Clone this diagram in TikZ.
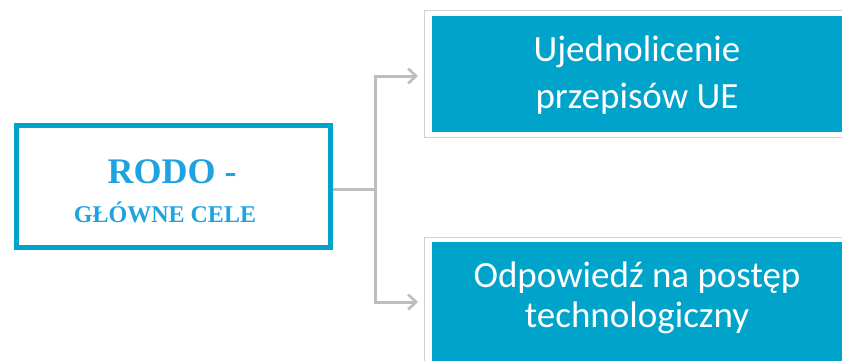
\documentclass[tikz,border=0pt]{standalone}
\usepackage{fontspec}
\setmainfont{Carlito}
\newfontfamily\titlefont{Liberation Serif}
\usetikzlibrary{arrows.meta,positioning}
\definecolor{rodoblue}{HTML}{00A3CA}
\definecolor{titleblue}{HTML}{1FA3E0}
\definecolor{linkgray}{HTML}{BDBDBD}
\tikzset{
  goalbox/.style={fill=rodoblue, inner sep=0pt, anchor=north west},
  goaltext/.style={text=white, align=center, inner sep=0pt},
  goalframe/.style={draw=gray!35, fill=white, line width=1pt},
  mainbox/.style={draw=rodoblue, line width=4.5pt, fill=white,
    minimum width=314pt, minimum height=122pt, inner sep=0pt, align=center},
  link/.style={draw=linkgray, line width=3pt,
    -{Straight Barb[length=8pt,width=15pt,line width=2.6pt]}}
}
\begin{document}
\begin{tikzpicture}[x=1pt,y=-1pt]
\useasboundingbox (0,0) rectangle (842,360);
\clip (0,0) rectangle (842,360);
% white frames behind the two goal boxes
\draw[goalframe] (424,10) rectangle (860,137);
\draw[goalframe] (424,237) rectangle (860,380);
% goal boxes
\node[goalbox, minimum width=420pt, minimum height=116pt] (uni) at (432,16) {};
\node[goaltext, font=\fontsize{37}{47}\selectfont] (unitext) at (637,75) {Ujednolicenie\\przepisów UE};
\node[goalbox, minimum width=420pt, minimum height=130pt] (tech) at (432,242) {};
\node[goaltext, font=\fontsize{37}{40}\selectfont] (techtext) at (637,298) {Odpowiedź na postęp\\technologiczny};
% main box
\node[mainbox] (rodo) at (173.5,186.5) {};
\node[text=titleblue, font=\titlefont\bfseries\fontsize{36}{36}\selectfont] (title) at (172,172) {RODO -};
\node[text=titleblue, font=\titlefont\bfseries\fontsize{24}{24}\selectfont] (sub) at (165,212) {GŁÓWNE CELE};
% connectors
\coordinate (split) at (375,189);
\draw[draw=linkgray, line width=3pt] (rodo.east |- split) -- (split);
\draw[link] (split) |- ([xshift=-14pt]uni.west |- 0,76);
\draw[link] (split) |- ([xshift=-14pt]tech.west |- 0,302);
\end{tikzpicture}
\end{document}
